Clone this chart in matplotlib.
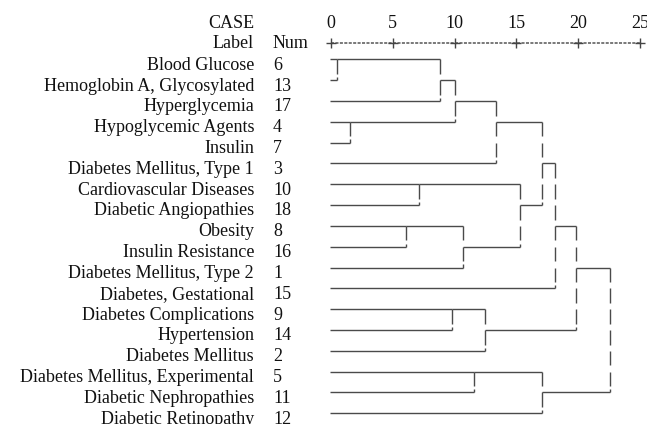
import numpy as np
import matplotlib
matplotlib.use('Agg')
from matplotlib import pyplot as plt

labels = ['Blood Glucose', 'Hemoglobin A, Glycosylated', 'Hyperglycemia',
          'Hypoglycemic Agents', 'Insulin', 'Diabetes Mellitus, Type 1',
          'Cardiovascular Diseases', 'Diabetic Angiopathies', 'Obesity',
          'Insulin Resistance', 'Diabetes Mellitus, Type 2', 'Diabetes, Gestational',
          'Diabetes Complications', 'Hypertension', 'Diabetes Mellitus',
          'Diabetes Mellitus, Experimental', 'Diabetic Nephropathies',
          'Diabetic Retinopathy']
nums = [6, 13, 17, 4, 7, 3, 10, 18, 8, 16, 1, 15, 9, 14, 2, 5, 11, 12]

# agglomeration schedule: first row of cluster a, first row of cluster b, rescaled distance
merge_a = [0, 3, 8, 6, 0, 12, 0, 8, 15, 12, 0, 6, 0, 15, 0, 0, 0]
merge_b = [1, 4, 9, 7, 2, 13, 3, 10, 16, 14, 5, 8, 6, 17, 11, 12, 15]
merge_d = [0.5, 1.5, 6.1, 7.1, 8.8, 9.8, 10.0, 10.7, 11.6, 12.5, 13.4, 15.3,
           17.1, 17.1, 18.1, 19.8, 22.6]

scale_ticks = [0, 5, 10, 15, 20, 25]

W, H = 647, 424
px_per_unit = 12.35
x0_px = 331
row0_px = 59.3
row_px = 20.82

plt.rcParams['font.family'] = ['Liberation Serif', 'DejaVu Serif']
fig = plt.figure(figsize=(W/100, H/100), dpi=100)
ax = fig.add_axes([0, 0, 1, 1])
ax.set_xlim(-x0_px/px_per_unit, (W-x0_px)/px_per_unit)
ax.set_ylim((H-row0_px)/row_px, -row0_px/row_px)
ax.axis('off')

lc = '#4a4a4a'
lw = 1.0
fs = 13
tc = '#111111'

# header
ax.text(-6.23, -1.5, 'CASE', ha='right', va='baseline', fontsize=fs, color=tc)
ax.text(-6.23, -0.54, 'Label', ha='right', va='baseline', fontsize=fs, color=tc)
ax.text(-4.7, -0.54, 'Num', ha='left', va='baseline', fontsize=fs, color=tc)
for t in scale_ticks:
    ax.text(t, -1.5, str(t), ha='center', va='baseline', fontsize=fs, color=tc)
ax.plot([scale_ticks[0], scale_ticks[-1]], [-0.78, -0.78], color='#555555', lw=1.1,
        linestyle=(0, (2.0, 0.9)))
ax.scatter(scale_ticks, [-0.78]*len(scale_ticks), marker='+', s=60, color='#444444',
           linewidths=1.0, zorder=3)

# case labels
for i, (lab, n) in enumerate(zip(labels, nums)):
    ax.text(-6.23, i + 0.5, lab, ha='right', va='baseline', fontsize=fs, color=tc)
    ax.text(-4.7, i + 0.5, str(n), ha='left', va='baseline', fontsize=fs, color=tc)

def vline(x, a, b):
    for r in range(a, b):
        ax.plot([x, x], [r, r + 0.7], color=lc, lw=lw, solid_capstyle='butt')
    ax.plot([x, x], [b - 0.15, b], color=lc, lw=lw, solid_capstyle='butt')

clusters = {i: {'rep': i, 'x': 0.0} for i in range(len(labels))}
for a, b, d in zip(merge_a, merge_b, merge_d):
    ca, cb = clusters[a], clusters[b]
    for c in (ca, cb):
        ax.plot([c['x'] - (0.1 if c['x'] == 0 else 0), d], [c['rep'], c['rep']],
                color=lc, lw=lw, solid_capstyle='butt')
    lo, hi = sorted([ca['rep'], cb['rep']])
    vline(d, lo, hi)
    clusters[a] = {'rep': (lo + hi)//2, 'x': d}
    del clusters[b]

fig.savefig('out.png', dpi=100)
